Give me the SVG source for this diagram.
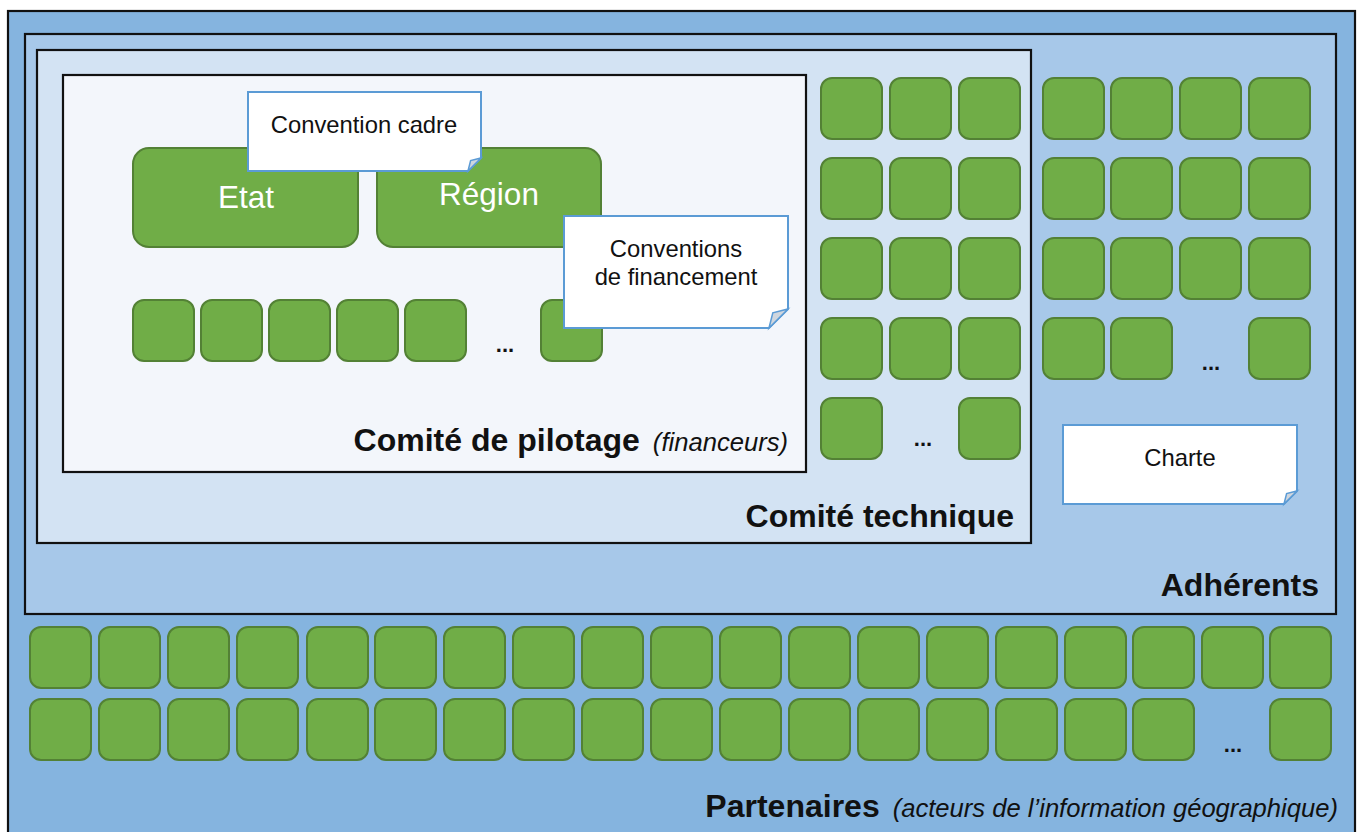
<svg xmlns="http://www.w3.org/2000/svg" width="1362" height="832" viewBox="0 0 1362 832">
<defs>
<style>
.frame{stroke:#111;stroke-width:2.2}
.g{fill:#70ad47;stroke:#538135;stroke-width:2}
.note{fill:#fff;stroke:#5b9bd5;stroke-width:2;stroke-linejoin:miter}
.fold{fill:#cfd6de;stroke:#5b9bd5;stroke-width:1.5}
.t{font-family:"Liberation Sans",Arial,sans-serif;fill:#111}
.nt{font-size:23.8px;text-anchor:middle}
.lbl{font-size:32px;font-weight:bold;text-anchor:end}
.it{font-size:25.6px;font-style:italic;font-weight:normal}
.big{font-size:31.5px;fill:#fff;text-anchor:middle}
.dots{font-size:22px;font-weight:bold;text-anchor:middle}
</style>
<rect id="sq" width="61" height="61" rx="11" class="g"/>
</defs>

<g id="partenaires">
<rect x="8" y="11" width="1347" height="830" fill="#85b4df" class="frame"/>
<text class="t lbl" x="1338" y="817"><tspan>Partenaires</tspan><tspan class="it" dx="13">(acteurs de l’information géographique)</tspan></text>
</g>

<g id="adherents">
<rect x="25" y="34" width="1311" height="580" fill="#a7c8e9" class="frame"/>
<text class="t lbl" x="1319" y="596">Adhérents</text>
</g>

<g id="comite-technique">
<rect x="37" y="50" width="994" height="493" fill="#d3e3f3" class="frame"/>
<text class="t lbl" x="1014" y="527">Comité technique</text>
</g>

<g id="comite-pilotage">
<rect x="63" y="75" width="743" height="397" fill="#f3f6fb" class="frame"/>
<text class="t lbl" x="788" y="451"><tspan>Comité de pilotage</tspan><tspan class="it" dx="13">(financeurs)</tspan></text>
</g>

<g id="etat">
<rect x="133" y="148" width="225" height="99" rx="16" class="g"/>
<text class="t big" x="246" y="208">Etat</text>
</g>
<g id="region">
<rect x="377" y="148" width="224" height="99" rx="16" class="g"/>
<text class="t big" x="489" y="205">Région</text>
</g>

<g id="copil-membres">
<use href="#sq" x="133" y="300"/>
<use href="#sq" x="201" y="300"/>
<use href="#sq" x="269" y="300"/>
<use href="#sq" x="337" y="300"/>
<use href="#sq" x="405" y="300"/>
<use href="#sq" x="541" y="300"/>
<text class="t dots" x="505" y="352">...</text>
</g>

<g id="convention-cadre">
<path class="note" d="M248,92 H481 V158 L468,171 H248 Z"/>
<path class="fold" d="M468,171 L470.6,160.6 L481,158 Z"/>
<text class="t nt" x="364" y="133">Convention cadre</text>
</g>

<g id="conventions-financement">
<path class="note" d="M564,216 H788 V309 L769,328 H564 Z"/>
<path class="fold" d="M769,328 L772.8,312.8 L788,309 Z"/>
<text class="t nt" x="676" y="257">Conventions</text>
<text class="t nt" x="676" y="285">de financement</text>
</g>

<g id="ct-membres">
<use href="#sq" x="821" y="78"/><use href="#sq" x="890" y="78"/><use href="#sq" x="959" y="78"/>
<use href="#sq" x="821" y="158"/><use href="#sq" x="890" y="158"/><use href="#sq" x="959" y="158"/>
<use href="#sq" x="821" y="238"/><use href="#sq" x="890" y="238"/><use href="#sq" x="959" y="238"/>
<use href="#sq" x="821" y="318"/><use href="#sq" x="890" y="318"/><use href="#sq" x="959" y="318"/>
<use href="#sq" x="821" y="398"/><use href="#sq" x="959" y="398"/>
<text class="t dots" x="923" y="446">...</text>
</g>

<g id="adh-membres">
<use href="#sq" x="1043" y="78"/><use href="#sq" x="1111" y="78"/><use href="#sq" x="1180" y="78"/><use href="#sq" x="1249" y="78"/>
<use href="#sq" x="1043" y="158"/><use href="#sq" x="1111" y="158"/><use href="#sq" x="1180" y="158"/><use href="#sq" x="1249" y="158"/>
<use href="#sq" x="1043" y="238"/><use href="#sq" x="1111" y="238"/><use href="#sq" x="1180" y="238"/><use href="#sq" x="1249" y="238"/>
<use href="#sq" x="1043" y="318"/><use href="#sq" x="1111" y="318"/><use href="#sq" x="1249" y="318"/>
<text class="t dots" x="1211" y="370">...</text>
</g>

<g id="charte">
<path class="note" d="M1063,425 H1297 V491 L1284,504 H1063 Z"/>
<path class="fold" d="M1284,504 L1286.6,493.6 L1297,491 Z"/>
<text class="t nt" x="1180" y="466">Charte</text>
</g>

<g id="part-membres">
<use href="#sq" x="30" y="627"/><use href="#sq" x="99" y="627"/><use href="#sq" x="168" y="627"/><use href="#sq" x="237" y="627"/><use href="#sq" x="307" y="627"/><use href="#sq" x="375" y="627"/><use href="#sq" x="444" y="627"/><use href="#sq" x="513" y="627"/><use href="#sq" x="582" y="627"/><use href="#sq" x="651" y="627"/><use href="#sq" x="720" y="627"/><use href="#sq" x="789" y="627"/><use href="#sq" x="858" y="627"/><use href="#sq" x="927" y="627"/><use href="#sq" x="996" y="627"/><use href="#sq" x="1065" y="627"/><use href="#sq" x="1133" y="627"/><use href="#sq" x="1202" y="627"/><use href="#sq" x="1270" y="627"/>
<use href="#sq" x="30" y="699"/><use href="#sq" x="99" y="699"/><use href="#sq" x="168" y="699"/><use href="#sq" x="237" y="699"/><use href="#sq" x="307" y="699"/><use href="#sq" x="375" y="699"/><use href="#sq" x="444" y="699"/><use href="#sq" x="513" y="699"/><use href="#sq" x="582" y="699"/><use href="#sq" x="651" y="699"/><use href="#sq" x="720" y="699"/><use href="#sq" x="789" y="699"/><use href="#sq" x="858" y="699"/><use href="#sq" x="927" y="699"/><use href="#sq" x="996" y="699"/><use href="#sq" x="1065" y="699"/><use href="#sq" x="1133" y="699"/><use href="#sq" x="1270" y="699"/>
<text class="t dots" x="1233" y="752">...</text>
</g>

<g id="connectors"></g>
</svg>
